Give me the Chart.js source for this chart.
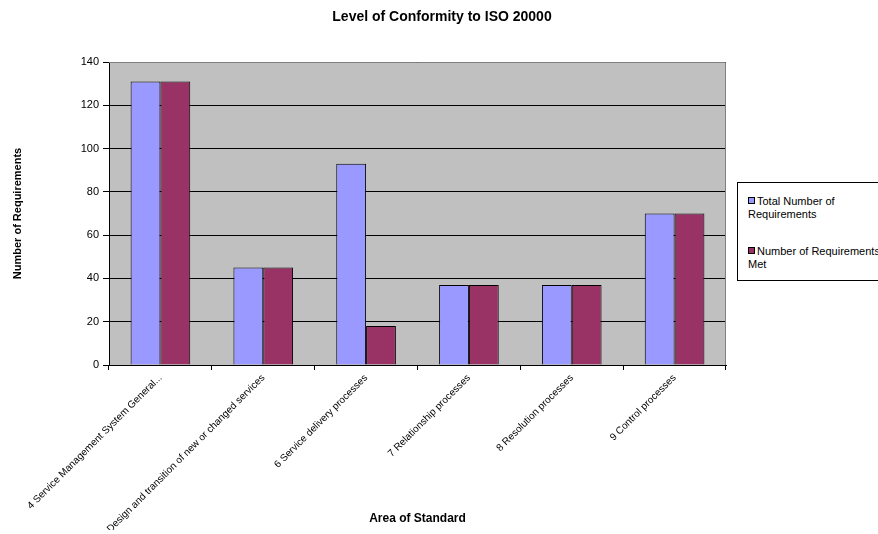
<!DOCTYPE html>
<html>
<head>
<meta charset="utf-8">
<script src="https://cdn.jsdelivr.net/npm/chart.js@4"></script>
<style>
  html, body { margin: 0; padding: 0; background: #fff; overflow: hidden; }
  #wrap { position: relative; width: 878px; height: 534px; }
  #title {
    position: absolute; left: 0; width: 884px; top: 8px; text-align: center;
    font: bold 14px "Liberation Sans", Arial, sans-serif; color: #000;
  }
  #legend {
    position: absolute; left: 737px; top: 182px; width: 150px; height: 99px;
    border: 1px solid #000; background: #fff; box-sizing: border-box;
    font: 11px "Liberation Sans", Arial, sans-serif; color: #000;
  }
  .item { position: absolute; left: 10px; white-space: nowrap; line-height: 13px; }
  .item span { display: inline-block; width: 5px; height: 5px; border: 1px solid #000; margin-right: 2px; vertical-align: 1px; }
</style>
</head>
<body>
<div id="wrap">
  <canvas id="chart" width="878" height="534"></canvas>
  <div id="title">Level of Conformity to ISO 20000</div>
  <div id="legend"></div>
</div>
<script>
const categories = [
  '4 Service Management System General...',
  '5 Design and transition of new or changed services',
  '6 Service delivery processes',
  '7 Relationship processes',
  '8 Resolution processes',
  '9 Control processes'
];
const totalRequirements = [131, 45, 93, 37, 37, 70];
const requirementsMet = [131, 45, 18, 37, 37, 70];
const seriesNames = ['Total Number of\nRequirements', 'Number of Requirements\nMet'];
const seriesColors = ['#9999FF', '#993366'];

const font = "'Liberation Sans', Arial, sans-serif";

const plotFrame = {
  id: 'plotFrame',
  beforeDraw(chart) {
    const { ctx, chartArea: a } = chart;
    ctx.save();
    ctx.fillStyle = '#C0C0C0';
    ctx.fillRect(a.left, a.top, a.right - a.left, a.bottom - a.top);
    ctx.restore();
  },
  afterDraw(chart) {
    const { ctx, chartArea: a } = chart;
    ctx.save();
    ctx.strokeStyle = '#808080';
    ctx.lineWidth = 1;
    ctx.beginPath();
    ctx.moveTo(a.left, a.top + 0.5);
    ctx.lineTo(a.right - 0.5, a.top + 0.5);
    ctx.lineTo(a.right - 0.5, a.bottom);
    ctx.stroke();
    ctx.restore();
  }
};

new Chart(document.getElementById('chart'), {
  type: 'bar',
  data: {
    labels: categories,
    datasets: [
      { label: seriesNames[0], data: totalRequirements, backgroundColor: seriesColors[0],
        borderColor: '#000', borderWidth: 1, categoryPercentage: 0.58, barPercentage: 1 },
      { label: seriesNames[1], data: requirementsMet, backgroundColor: seriesColors[1],
        borderColor: '#000', borderWidth: 1, categoryPercentage: 0.58, barPercentage: 1 }
    ]
  },
  plugins: [plotFrame],
  options: {
    responsive: false,
    animation: false,
    layout: { padding: { left: 11, right: 152, top: 62, bottom: 4 } },
    plugins: {
      legend: { display: false },
      tooltip: { enabled: false },
      title: { display: false }
    },
    scales: {
      x: {
        grid: { display: true, drawOnChartArea: false, drawTicks: true, tickLength: 5, color: '#000', offset: true },
        border: { color: '#000' },
        ticks: { color: '#000', font: { family: font, size: 10 }, minRotation: 45, maxRotation: 45, autoSkip: false, padding: 2 },
        title: { display: true, text: 'Area of Standard', color: '#000', font: { family: font, size: 12, weight: 'bold' }, padding: { top: 0, bottom: 4 } },
        afterFit(axis) { axis.height = 165; }
      },
      y: {
        min: 0, max: 140,
        grid: { color: '#000', tickLength: 6 },
        border: { color: '#000' },
        ticks: { stepSize: 20, color: '#000', font: { family: font, size: 11 }, padding: 4 },
        title: { display: true, text: 'Number of Requirements', color: '#000', font: { family: font, size: 11, weight: 'bold' }, padding: { top: 0, bottom: 0 } },
        afterFit(axis) { axis.width = 98; }
      }
    }
  }
});

const legendEl = document.getElementById('legend');
const legendTops = [12, 62];
seriesNames.forEach((name, i) => {
  const item = document.createElement('div');
  item.className = 'item';
  item.style.top = legendTops[i] + 'px';
  const lines = name.split('\n');
  item.innerHTML = '<span style="background:' + seriesColors[i] + '"></span>' + lines[0] + '<br>' + lines[1];
  legendEl.appendChild(item);
});
</script>
</body>
</html>
